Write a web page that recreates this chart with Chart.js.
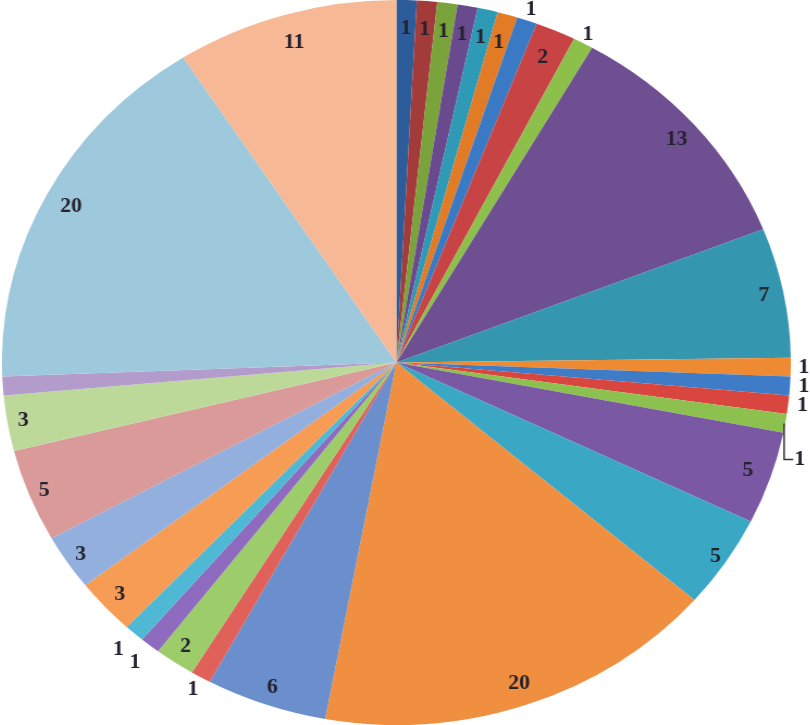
<!DOCTYPE html>
<html>
<head>
<meta charset="utf-8">
<script src="https://cdn.jsdelivr.net/npm/chart.js@4"></script>
<style>
  html, body { margin: 0; padding: 0; background: #ffffff; overflow: hidden; }
  #wrap { position: absolute; left: 2px; top: 0; transform-origin: 0 0; transform: scaleX(1.088); }
</style>
</head>
<body>
<div id="wrap"><canvas id="c" width="745" height="725"></canvas></div>
<script>
// ---- data (clockwise from 12 o'clock) ----
const categories = [
  "A1","A2","A3","A4","A5","A6","A7","A8","A9","A10",
  "A11","A12","A13","A14","A15","A16","A17","A18","A19","A20",
  "A21","A22","A23","A24","A25","A26","A27","A28","A29","A30"
];
const values = [1,1,1,1,1,1,1,2,1,13, 7,1,1,1,1,5,5,20,6,1, 2,1,1,3,3,5,3,1,20,11];
const showLabel = [1,1,1,1,1,1,1,1,1,1, 1,1,1,1,1,1,1,1,1,1, 1,1,1,1,1,1,1,0,1,1];

// ---- styling ----
const sliceColors = [
  "#2d5c9b","#a33b3a","#7aa33b","#6a4a8f","#2f9ab5","#e27b25","#3a79c4","#c84444","#8cc04a","#6e4f92",
  "#3596b0","#ee8a32","#3f7cc8","#d9463f","#8dc14f","#7a58a3","#3aa8c4","#f08f3f","#6b8fcc","#e0605a",
  "#9ccd6a","#8e6bbf","#4fb8d4","#f79c55","#92afde","#d99a99","#bcd99a","#b39ccc","#9ec8dc","#f7b896"
];
// label distance from centre as fraction of radius
const labelRadius = [
  0.92,0.92,0.92,0.92,0.92,0.92,1.03,0.92,1.025,0.94,
  0.95,1.033,1.035,1.037,1.057,0.94,0.97,0.94,0.95,1.04,
  0.95,1.06,1.06,0.95,0.96,0.96,0.96,0.96,0.93,0.92
];
const labelAngleShift = [0,0,0,0,0,0,0,0,0,0, 0,0,0,0,5,0,0,0,0,0, 0,0,0,0,0,0,0,0,0,0];
const leaderLine = [0,0,0,0,0,0,0,0,0,0, 0,0,0,0,1,0,0,0,0,0, 0,0,0,0,0,0,0,0,0,0];

const labelPlugin = {
  id: 'sliceLabels',
  afterDatasetsDraw(chart) {
    const ctx = chart.ctx;
    const meta = chart.getDatasetMeta(0);
    ctx.save();
    ctx.font = "bold 20px \"Liberation Serif\", \"DejaVu Serif\", serif";
    ctx.fillStyle = "#24222e";
    ctx.textAlign = "center";
    ctx.textBaseline = "middle";
    meta.data.forEach((arc, i) => {
      if (!showLabel[i]) return;
      const p = arc.getProps(['x','y','startAngle','endAngle','outerRadius'], true);
      const mid = (p.startAngle + p.endAngle) / 2;
      const a = mid + labelAngleShift[i] * Math.PI / 180;
      const r = p.outerRadius * labelRadius[i];
      const lx = p.x + Math.cos(a) * r;
      const ly = p.y + Math.sin(a) * r;
      if (leaderLine[i]) {
        const ax = p.x + Math.cos(mid) * p.outerRadius;
        const ay = p.y + Math.sin(mid) * p.outerRadius;
        ctx.strokeStyle = "#333";
        ctx.lineWidth = 1.5;
        ctx.beginPath();
        ctx.moveTo(ax - 1, ay);
        ctx.lineTo(ax - 1, ly);
        ctx.lineTo(lx - 6, ly);
        ctx.stroke();
      }
      ctx.fillText(String(values[i]), lx, ly);
    });
    ctx.restore();
  }
};

new Chart(document.getElementById('c'), {
  type: 'pie',
  data: {
    labels: categories,
    datasets: [{
      data: values,
      backgroundColor: sliceColors,
      borderWidth: 0,
      hoverOffset: 0
    }]
  },
  options: {
    responsive: false,
    animation: false,
    layout: { padding: { left: 0, right: 20, top: 0, bottom: 0 } },
    plugins: {
      legend: { display: false },
      tooltip: { enabled: false },
      title: { display: false }
    }
  },
  plugins: [labelPlugin]
});
</script>
</body>
</html>
